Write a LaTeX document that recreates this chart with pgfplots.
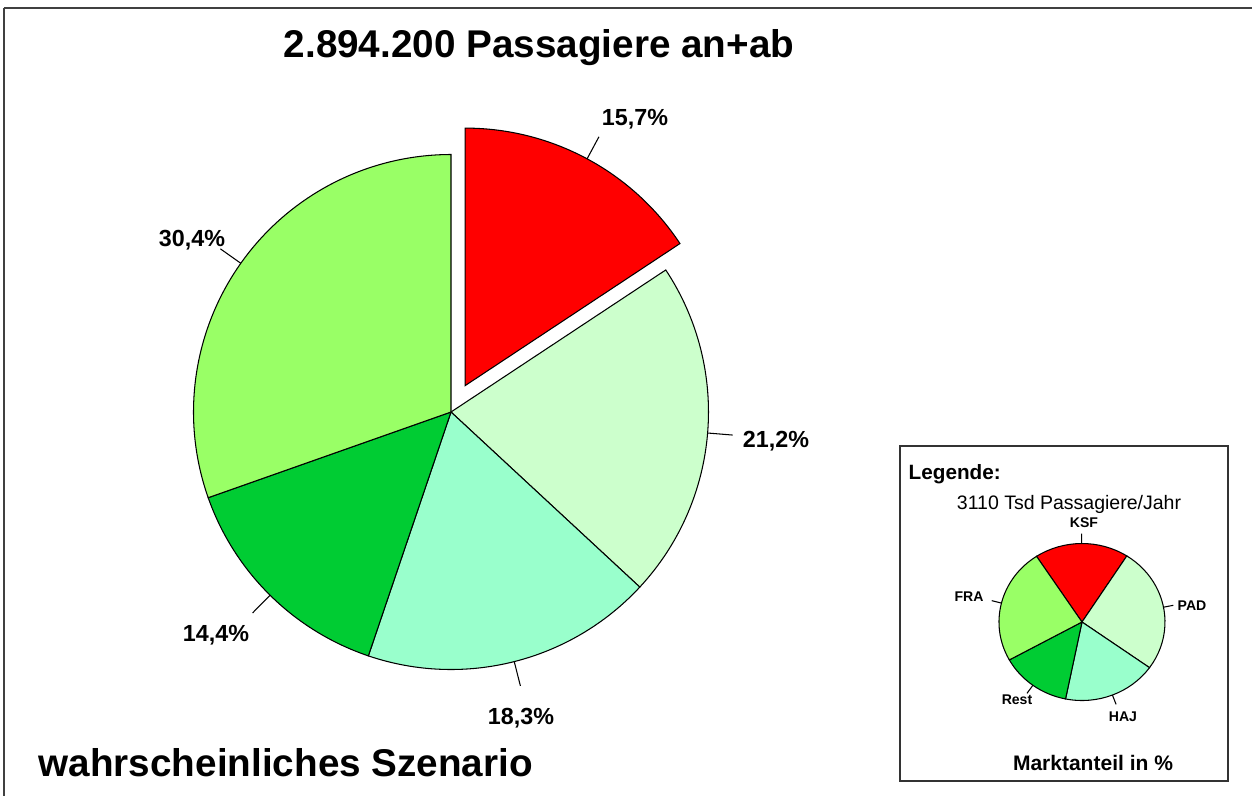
\documentclass[border=0pt]{standalone}
\usepackage{fontspec}
\setmainfont{Liberation Sans}
\usepackage{pgfplots}
\usepackage{pgfplotstable}
\pgfplotsset{compat=1.18}

% slice colours, same order in both pies
\definecolor{c0}{HTML}{FF0000}
\definecolor{c1}{HTML}{CCFFCC}
\definecolor{c2}{HTML}{99FFCC}
\definecolor{c3}{HTML}{00CC33}
\definecolor{c4}{HTML}{99FF66}

% main pie: share in %, explode in px, label position in px
\pgfplotstableread{
name share explode lx  ly
KSF  15.7  30      635 125.5
PAD  21.2  0       776 447.5
HAJ  18.3  0       521 724.5
Rest 14.4  0       216 641.5
FRA  30.4  0       192 246
}\maindata

% legend pie
\pgfplotstableread{
name share explode lx   ly
KSF  18.3  0       1084 527
PAD  25.8  0       1192 610
HAJ  18.3  0       1123 721
Rest 13.8  0       1017 704
FRA  23.8  0       969  601
}\legenddata

% cumulative angles -> \<prefix>s<i>, \<prefix>e<i>, \<prefix>m<i> ...
\newcommand\piesetup[3]{%
  \pgfplotstablegetrowsof{#1}%
  \pgfmathtruncatemacro\pielast{\pgfplotsretval-1}%
  \xdef\pieacc{#3}%
  \foreach \i in {0,...,\pielast}{%
    \pgfplotstablegetelem{\i}{share}\of#1%
    \let\pieshare\pgfplotsretval
    \pgfmathsetmacro\pieend{\pieacc-3.6*\pieshare}%
    \pgfmathsetmacro\piemid{(\pieacc+\pieend)/2}%
    \expandafter\xdef\csname #2s\i\endcsname{\pieacc}%
    \expandafter\xdef\csname #2e\i\endcsname{\pieend}%
    \expandafter\xdef\csname #2m\i\endcsname{\piemid}%
    \expandafter\xdef\csname #2v\i\endcsname{\pieshare}%
    \pgfplotstablegetelem{\i}{explode}\of#1%
    \pgfmathsetmacro\pieex{0.01*\pgfplotsretval}%
    \expandafter\xdef\csname #2x\i\endcsname{\pieex}%
    \pgfplotstablegetelem{\i}{lx}\of#1%
    \expandafter\xdef\csname #2lx\i\endcsname{\pgfplotsretval}%
    \pgfplotstablegetelem{\i}{ly}\of#1%
    \expandafter\xdef\csname #2ly\i\endcsname{\pgfplotsretval}%
    \pgfplotstablegetelem{\i}{name}\of#1%
    \expandafter\xdef\csname #2n\i\endcsname{\pgfplotsretval}%
    \xdef\pieacc{\pieend}%
  }%
}
\piesetup{\maindata}{m}{90}
\piesetup{\legenddata}{l}{123.2}

\begin{document}
\begin{tikzpicture}
\begin{axis}[
  hide axis, scale only axis,
  width=12.52cm, height=7.96cm,
  xmin=0, xmax=1252, ymin=0, ymax=796,
  y dir=reverse, clip=false,
]
% outer frame (only top and left visible)
\draw[line width=0.6pt, black!75] (axis cs:4,7.7) -- (axis cs:1252,7.7);
\draw[line width=0.6pt, black!75] (axis cs:4,7.7) -- (axis cs:4,796);

% main pie
\pgfplotsinvokeforeach{0,...,4}{
  \filldraw[fill=c#1, draw=black, line width=0.3pt]
    (axis cs:451,412) ++(\csname mm#1\endcsname:\csname mx#1\endcsname cm)
    -- ++(\csname ms#1\endcsname:2.575cm)
    arc[start angle=\csname ms#1\endcsname, end angle=\csname me#1\endcsname, radius=2.575cm]
    -- cycle;
  \draw[line width=0.3pt]
    (axis cs:451,412) ++(\csname mm#1\endcsname:\csname mx#1\endcsname cm)
    ++(\csname mm#1\endcsname:2.575cm) -- ++(\csname mm#1\endcsname:0.25cm);
  \node[anchor=base, inner sep=0pt, font=\fontsize{6.63}{8}\selectfont\bfseries]
    at (axis cs:\csname mlx#1\endcsname,\csname mly#1\endcsname)
    {\pgfmathprintnumber[fixed, precision=1, fixed zerofill, use comma, assume math mode=true]{\csname mv#1\endcsname}\%};
}

\node[anchor=base, inner sep=0pt, font=\fontsize{11}{13}\selectfont\bfseries]
  at (axis cs:539,58) {2.894.200 Passagiere an+ab};
\node[anchor=base west, inner sep=0pt, font=\fontsize{11}{13}\selectfont\bfseries]
  at (axis cs:38,776) {wahrscheinliches Szenario};

% legend box
\draw[line width=0.45pt, black!80] (axis cs:900,446) rectangle (axis cs:1228,781);
\node[anchor=base west, inner sep=0pt, font=\fontsize{5.89}{7}\selectfont\bfseries]
  at (axis cs:908,479.4) {Legende:};
\node[anchor=base, inner sep=0pt, font=\fontsize{5.55}{7}\selectfont]
  at (axis cs:1069,509) {3110 Tsd Passagiere/Jahr};
\node[anchor=base, inner sep=0pt, font=\fontsize{5.98}{7}\selectfont\bfseries]
  at (axis cs:1093,770.5) {Marktanteil in \%};

\pgfplotsinvokeforeach{0,...,4}{
  \filldraw[fill=c#1, draw=black, line width=0.3pt]
    (axis cs:1082,622)
    -- ++(\csname ls#1\endcsname:0.83cm and 0.785cm)
    arc[start angle=\csname ls#1\endcsname, end angle=\csname le#1\endcsname, x radius=0.83cm, y radius=0.785cm]
    -- cycle;
  \draw[line width=0.3pt]
    (axis cs:1082,622) ++(\csname lm#1\endcsname:0.83cm and 0.785cm)
    -- ++(\csname lm#1\endcsname:0.1cm);
  \node[anchor=base, inner sep=0pt, font=\fontsize{4}{5}\selectfont\bfseries]
    at (axis cs:\csname llx#1\endcsname,\csname lly#1\endcsname) {\csname ln#1\endcsname};
}
\end{axis}
\pgfresetboundingbox
\path (current axis.south west) rectangle (current axis.north east);
\end{tikzpicture}
\end{document}
